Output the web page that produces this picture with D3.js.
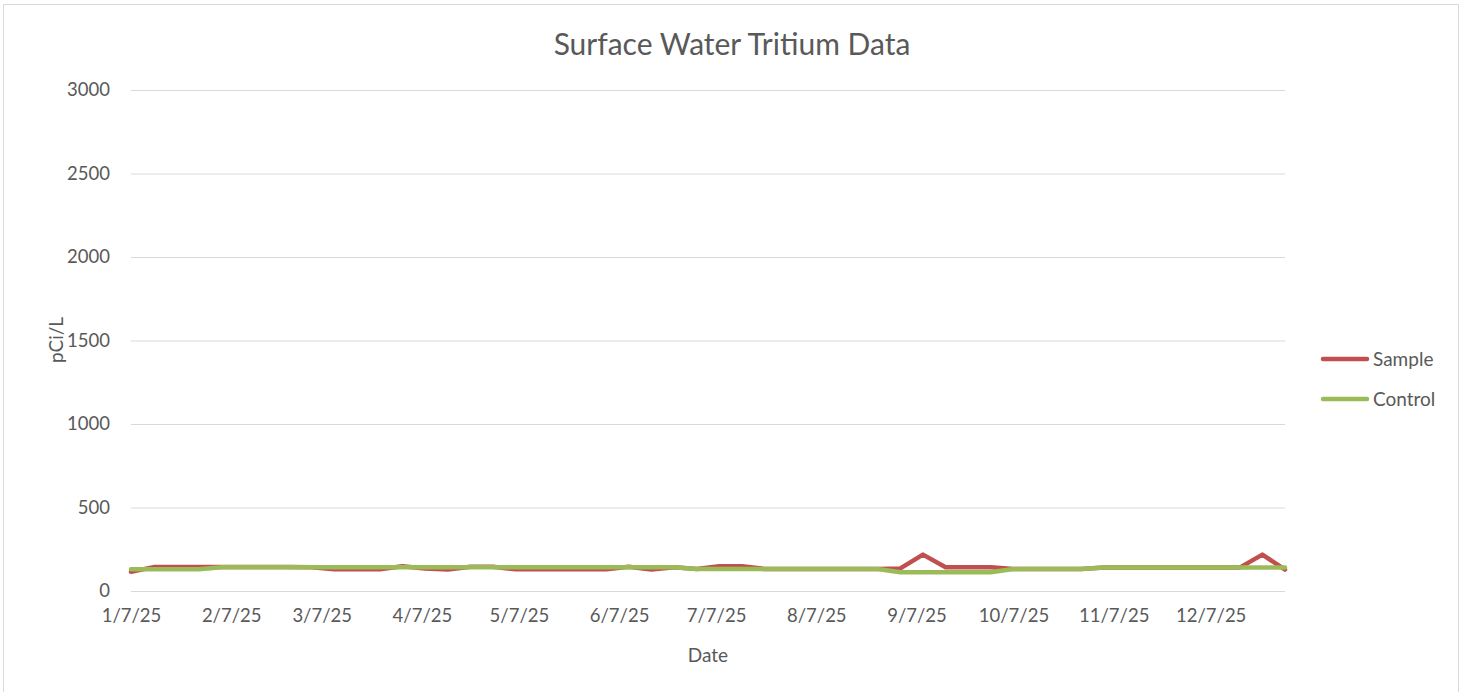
<!DOCTYPE html>
<html>
<head>
<meta charset="utf-8">
<script src="https://cdn.jsdelivr.net/npm/d3@7"></script>
<style>
  html, body { margin: 0; padding: 0; background: #fff; }
  svg { display: block; }
  text { font-family: Lato, "Open Sans", sans-serif; fill: #595959; }
</style>
</head>
<body>
<svg id="chart" width="1460" height="692"></svg>
<script>
const dates = [
  "2025-01-07","2025-01-14","2025-01-21","2025-01-28",
  "2025-02-04","2025-02-11","2025-02-18","2025-02-25",
  "2025-03-04","2025-03-11","2025-03-18","2025-03-25",
  "2025-04-01","2025-04-08","2025-04-15","2025-04-22","2025-04-29",
  "2025-05-06","2025-05-13","2025-05-20","2025-05-27",
  "2025-06-03","2025-06-10","2025-06-17","2025-06-24",
  "2025-07-01","2025-07-08","2025-07-15","2025-07-22","2025-07-29",
  "2025-08-05","2025-08-12","2025-08-19","2025-08-26",
  "2025-09-02","2025-09-09","2025-09-16","2025-09-23","2025-09-30",
  "2025-10-07","2025-10-14","2025-10-21","2025-10-28",
  "2025-11-04","2025-11-11","2025-11-18","2025-11-25",
  "2025-12-02","2025-12-09","2025-12-16","2025-12-23","2025-12-30"
];
const sampleValues = [
  115,143,143,143,143,143,143,143,
  142,130,130,130,148,135,128,145,145,
  130,130,130,130,130,145,128,142,
  132,148,148,132,132,
  132,132,132,132,
  135,218,142,142,142,
  132,132,132,132,
  140,140,140,140,140,140,140,218,128
];
const controlValues = [
  130,130,130,130,142,142,142,142,
  142,142,142,142,142,142,142,142,142,
  142,142,142,142,142,142,142,142,
  132,132,132,132,132,
  132,132,132,132,
  112,112,112,112,112,
  132,132,132,132,
  140,140,140,140,140,140,140,140,140
];
const xTickDates = ["2025-01-07","2025-02-07","2025-03-07","2025-04-07","2025-05-07","2025-06-07",
  "2025-07-07","2025-08-07","2025-09-07","2025-10-07","2025-11-07","2025-12-07"];
const xTickLabels = ["1/7/25","2/7/25","3/7/25","4/7/25","5/7/25","6/7/25",
  "7/7/25","8/7/25","9/7/25","10/7/25","11/7/25","12/7/25"];
const yTicks = [0, 500, 1000, 1500, 2000, 2500, 3000];
const seriesNames = ["Sample", "Control"];
const seriesColors = ["#c0504d", "#9bbb59"];

const parse = d3.utcParse("%Y-%m-%d");
const svg = d3.select("#chart");

// outer border
svg.append("rect").attr("x", 3.5).attr("y", 4.5).attr("width", 1455).attr("height", 700)
  .attr("fill", "none").attr("stroke", "#d9d9d9").attr("stroke-width", 1);

const x = d3.scaleUtc().domain([parse(dates[0]), parse(dates[dates.length - 1])]).range([131, 1285]);
const y = d3.scaleLinear().domain([0, 3000]).range([591, 90]);

// gridlines
const yAxis = d3.axisLeft(y).tickValues(yTicks).tickSize(-(1285 - 131)).tickPadding(20).tickFormat(d3.format("d"));
const gy = svg.append("g").attr("transform", "translate(131,0)").call(yAxis);
gy.select(".domain").remove();
gy.selectAll(".tick line").attr("stroke", "#d9d9d9").attr("stroke-width", 1);
gy.selectAll(".tick text").style("font-size", "18.5px").attr("fill", "#595959").attr("x", -21);

// x axis labels
const xAxis = d3.axisBottom(x).tickValues(xTickDates.map(parse)).tickSize(0).tickPadding(18)
  .tickFormat((d, i) => xTickLabels[i]);
const gx = svg.append("g").attr("transform", "translate(0,591)").call(xAxis);
gx.select(".domain").remove();
gx.selectAll(".tick text").style("font-size", "18.5px").attr("fill", "#595959");

// lines
const allSeries = [sampleValues, controlValues];
const line = d3.line().x((d, i) => x(parse(dates[i]))).y(d => y(d));
allSeries.forEach((vals, k) => {
  svg.append("path").datum(vals).attr("d", line)
    .attr("fill", "none").attr("stroke", seriesColors[k]).attr("stroke-width", 4.5)
    .attr("stroke-linejoin", "round").attr("stroke-linecap", "round");
});

// title
svg.append("text").attr("x", 732).attr("y", 55).attr("text-anchor", "middle")
  .style("font-size", "30px").text("Surface Water Tritium Data");

// axis titles
svg.append("text").attr("x", 708).attr("y", 662).attr("text-anchor", "middle")
  .style("font-size", "19px").text("Date");
svg.append("text").attr("transform", "translate(63,340) rotate(-90)").attr("text-anchor", "middle")
  .style("font-size", "19px").text("pCi/L");

// legend
const legendY = [359, 399];
seriesNames.forEach((name, k) => {
  svg.append("line").attr("x1", 1323).attr("x2", 1367).attr("y1", legendY[k]).attr("y2", legendY[k])
    .attr("stroke", seriesColors[k]).attr("stroke-width", 4.5).attr("stroke-linecap", "round");
  svg.append("text").attr("x", 1373).attr("y", legendY[k]).attr("dy", "0.35em")
    .style("font-size", "19px").text(name);
});
</script>
</body>
</html>
